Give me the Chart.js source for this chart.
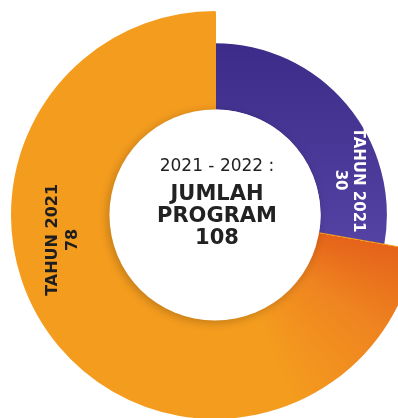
<!DOCTYPE html>
<html>
<head>
<meta charset="utf-8">
<script src="https://cdn.jsdelivr.net/npm/chart.js@4"></script>
<style>
  html, body { margin: 0; padding: 0; background: #ffffff; }
  #wrap { width: 398px; height: 418px; position: relative; }
</style>
</head>
<body>
<div id="wrap"><canvas id="program-chart"></canvas></div>
<script>
// data
const categories = ['TAHUN 2021', 'TAHUN 2021'];
const programs = [30, 78];
const centerTitle = '2021 - 2022 :';
const centerWords = ['JUMLAH', 'PROGRAM'];

const total = programs.reduce((a, b) => a + b, 0);

function center(chart) {
  const a = chart.chartArea;
  return { x: (a.left + a.right) / 2, y: (a.top + a.bottom) / 2 };
}

function purpleFill(chart) {
  if (!chart.chartArea) return '#5040a0';
  const g = chart.ctx.createLinearGradient(0, 40, 0, 300);
  g.addColorStop(0, '#3d2b89');
  g.addColorStop(1, '#5a49a9');
  return g;
}

function orangeFill(chart) {
  if (!chart.chartArea) return '#f49c1e';
  const c = center(chart);
  // orange starts where the purple ends
  const start = -Math.PI / 2 + programs[0] / total * Math.PI * 2;
  const g = chart.ctx.createConicGradient(start, c.x, c.y);
  g.addColorStop(0, '#e5631a');
  g.addColorStop(0.07, '#ef8420');
  g.addColorStop(0.16, '#f49c1e');
  g.addColorStop(1, '#f49c1e');
  return g;
}

const centerPlugin = {
  id: 'centerText',
  afterDatasetsDraw(chart) {
    const ctx = chart.ctx;
    const c = center(chart);
    const inner = chart.getDatasetMeta(1).data[0].innerRadius;

    ctx.save();
    ctx.beginPath();
    ctx.arc(c.x, c.y, inner, 0, Math.PI * 2);
    ctx.fillStyle = '#ffffff';
    ctx.shadowColor = 'rgba(0,0,0,0.22)';
    ctx.shadowBlur = 10;
    ctx.shadowOffsetX = -2;
    ctx.shadowOffsetY = 2;
    ctx.fill();
    ctx.restore();

    ctx.save();
    ctx.textAlign = 'center';
    ctx.textBaseline = 'middle';
    ctx.fillStyle = '#222222';
    ctx.font = '17px "DejaVu Sans"';
    ctx.fillText(centerTitle, c.x + 2, c.y - 48);
    ctx.font = 'bold 21px "DejaVu Sans"';
    ctx.fillText(centerWords[0], c.x + 2, c.y - 20);
    ctx.fillText(centerWords[1], c.x + 2, c.y + 2);
    ctx.fillText(String(total), c.x + 2, c.y + 24);
    ctx.restore();

    // arc labels, written along the ring
    const spots = [
      { angle: 75.4, r: 138.5, rot: Math.PI / 2, color: '#ffffff', gap: 9 },
      { angle: 260.7, r: 154, rot: -Math.PI / 2, color: '#1e1e1e', gap: 10 },
    ];
    spots.forEach((s, i) => {
      const a = s.angle * Math.PI / 180;
      const x = c.x + s.r * Math.sin(a);
      const y = c.y - s.r * Math.cos(a);
      ctx.save();
      ctx.translate(x, y);
      ctx.rotate(s.rot);
      ctx.textAlign = 'center';
      ctx.textBaseline = 'middle';
      ctx.fillStyle = s.color;
      ctx.font = i === 0 ? 'bold 15px "DejaVu Sans"' : 'bold 16px "DejaVu Sans"';
      ctx.fillText(categories[i], 0, -s.gap);
      ctx.fillText(String(programs[i]), 0, s.gap);
      ctx.restore();
    });
  }
};

new Chart(document.getElementById('program-chart'), {
  type: 'doughnut',
  data: {
    labels: categories,
    datasets: [
      {
        // outer band: only the bigger share reaches out this far
        data: programs,
        weight: 31,
        backgroundColor: (c) => c.dataIndex === 0 ? 'rgba(0,0,0,0)' : orangeFill(c.chart),
        borderColor: (c) => c.dataIndex === 0 ? 'rgba(0,0,0,0)' : orangeFill(c.chart),
        borderWidth: [0, 2],
      },
      {
        data: programs,
        weight: 66,
        backgroundColor: (c) => c.dataIndex === 0 ? purpleFill(c.chart) : orangeFill(c.chart),
        borderColor: (c) => orangeFill(c.chart),
        borderWidth: [0, 2],
      }
    ]
  },
  options: {
    responsive: true,
    maintainAspectRatio: false,
    animation: false,
    radius: 203,
    cutout: '52%',
    layout: { padding: { left: 32, top: 12, right: 0, bottom: 0 } },
    plugins: {
      legend: { display: false },
      tooltip: { enabled: false },
    }
  },
  plugins: [centerPlugin]
});
</script>
</body>
</html>
